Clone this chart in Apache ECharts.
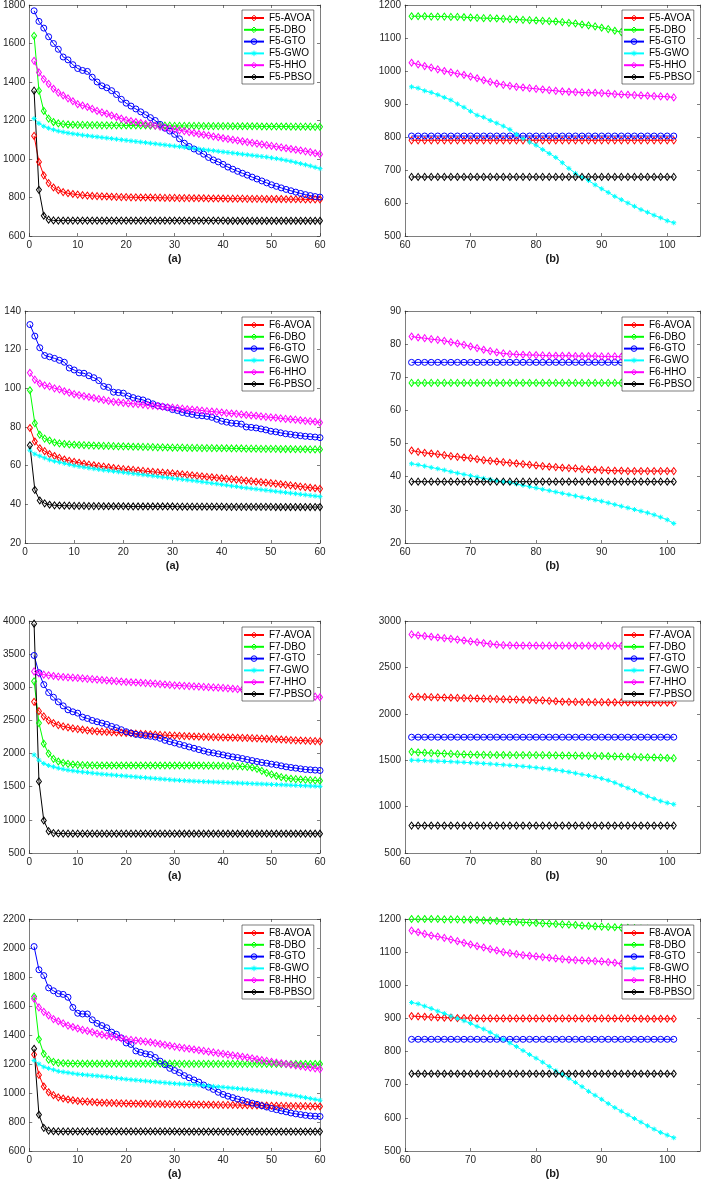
<!DOCTYPE html>
<html><head><meta charset="utf-8">
<script src="https://cdn.jsdelivr.net/npm/echarts@6/dist/echarts.min.js"></script>
<style>html,body{margin:0;padding:0;background:#fff}#c{width:702px;height:1181px}</style>
</head><body><div id="c"></div>
<script>
// ---------- DATA ----------
const itersA = [1,2,3,4,5,6,7,8,9,10,11,12,13,14,15,16,17,18,19,20,21,22,23,24,25,26,27,28,29,30,
31,32,33,34,35,36,37,38,39,40,41,42,43,44,45,46,47,48,49,50,51,52,53,54,55,56,57,58,59,60];
const itersB = [61,62,63,64,65,66,67,68,69,70,71,72,73,74,75,76,77,78,79,80,
81,82,83,84,85,86,87,88,89,90,91,92,93,94,95,96,97,98,99,100,101];
const algos = ['AVOA','DBO','GTO','GWO','HHO','PBSO'];
const funcs = ['F5','F6','F7','F8'];
const panelLabels = ['(a)','(b)'];
const leftYMin = [600, 20, 500, 600];
const leftYMax = [1800, 140, 4000, 2200];
const leftYStep = [200, 20, 500, 200];
const rightYMin = [500, 20, 500, 500];
const rightYMax = [1200, 90, 3000, 1200];
const rightYStep = [100, 10, 500, 100];
const leftXRange = [0, 60, 10];
const rightXRange = [60, 105, 10];

// F5 (a)
const f5L_AVOA = [1120,985,915,875,852,838,828,822,818,815,
812,810,808,807,806,805,804,803,802,802,
801,801,800,800,800,799,799,798,798,798,
797,797,797,796,796,796,795,795,795,795,
794,794,794,794,793,793,793,793,792,792,
792,792,791,791,791,791,790,790,790,790];
const f5L_DBO = [1640,1355,1250,1210,1192,1185,1181,1179,1178,1177,
1177,1176,1176,1176,1175,1175,1175,1175,1175,1174,
1174,1174,1174,1174,1173,1173,1173,1173,1173,1172,
1172,1172,1172,1172,1172,1171,1171,1171,1171,1171,
1171,1170,1170,1170,1170,1170,1170,1169,1169,1169,
1169,1169,1169,1168,1168,1168,1168,1168,1167,1167];
const f5L_GTO = [1770,1715,1680,1635,1600,1570,1530,1515,1490,1470,
1460,1455,1425,1400,1380,1370,1355,1335,1310,1290,
1275,1260,1245,1230,1215,1200,1180,1160,1145,1128,
1105,1082,1065,1052,1040,1025,1008,995,985,972,
958,947,936,926,916,906,896,886,876,866,
858,850,842,835,828,821,815,810,805,802];
const f5L_GWO = [1210,1185,1170,1160,1152,1145,1140,1135,1131,1128,
1124,1121,1118,1115,1112,1109,1106,1103,1100,1097,
1094,1091,1088,1085,1082,1079,1076,1073,1070,1067,
1064,1061,1058,1055,1052,1049,1046,1043,1040,1037,
1034,1031,1028,1025,1022,1019,1016,1013,1010,1006,
1002,998,993,988,982,976,970,964,957,950];
const f5L_HHO = [1510,1450,1415,1390,1365,1345,1330,1315,1300,1285,
1278,1270,1260,1250,1242,1235,1226,1218,1210,1202,
1197,1192,1187,1182,1178,1173,1168,1163,1158,1154,
1149,1145,1140,1135,1130,1126,1122,1117,1113,1108,
1104,1100,1096,1092,1088,1084,1080,1076,1072,1068,
1064,1060,1056,1052,1048,1044,1040,1036,1030,1025];
const f5L_PBSO = [1355,840,705,685,681,680,680,680,680,680,
680,680,680,680,680,680,680,680,680,680,
680,680,680,680,680,680,680,680,680,680,
680,680,680,680,680,680,680,680,680,680,
679,679,679,679,679,679,679,679,679,679,
679,679,679,679,679,679,679,679,679,679];
// F5 (b)
const f5R_AVOA = [790,790,790,790,790,790,790,790,790,790,
790,790,790,790,790,790,790,790,790,790,
790,790,790,790,790,790,790,790,790,790,
790,790,790,790,790,790,790,790,790,790,790];
const f5R_DBO = [1166,1166,1166,1165,1165,1165,1164,1164,1163,1162,
1161,1160,1160,1159,1158,1157,1156,1155,1154,1153,
1152,1151,1150,1148,1146,1144,1141,1138,1135,1131,
1127,1122,1118,1113,1108,1104,1100,1096,1093,1090,1087];
const f5R_GTO = [803,803,803,803,803,803,803,803,803,803,
803,803,803,803,803,803,803,803,803,803,
803,803,803,803,803,803,803,803,803,803,
803,803,803,803,803,803,803,803,803,803,803];
const f5R_GWO = [952,948,940,935,928,920,912,900,890,878,
866,860,850,842,833,823,808,795,785,775,
762,750,738,722,705,690,678,668,655,643,
632,620,610,600,590,580,572,563,555,546,540];
const f5R_HHO = [1025,1020,1015,1010,1005,1000,996,992,988,983,
978,972,967,962,958,955,952,950,948,946,
944,942,940,938,937,936,935,934,934,933,
932,930,929,928,927,926,925,924,923,922,920];
const f5R_PBSO = [679,679,679,679,679,679,679,679,679,679,
679,679,679,679,679,679,679,679,679,679,
679,679,679,679,679,679,679,679,679,679,
679,679,679,679,679,679,679,679,679,679,679];

// F6 (a)
const f6L_AVOA = [79.5,72.5,69.0,67.5,66.0,65.0,64.0,63.2,62.5,62.0,
61.5,61.0,60.5,60.2,59.8,59.5,59.2,58.8,58.5,58.2,
58.0,57.8,57.5,57.3,57.0,56.8,56.6,56.4,56.2,56.0,
55.7,55.5,55.2,55.0,54.7,54.5,54.2,54.0,53.7,53.5,
53.2,53.0,52.7,52.5,52.2,52.0,51.7,51.5,51.2,51.0,
50.7,50.4,50.1,49.8,49.5,49.2,48.9,48.6,48.3,48.0];
const f6L_DBO = [99,82,76,74,73,72,71.5,71.2,71.0,70.8,
70.7,70.6,70.5,70.4,70.3,70.2,70.2,70.1,70.0,70.0,
69.9,69.8,69.8,69.7,69.7,69.6,69.5,69.5,69.4,69.3,
69.3,69.3,69.2,69.2,69.2,69.1,69.1,69.1,69.0,69.0,
69.0,68.9,68.9,68.9,68.8,68.8,68.8,68.7,68.7,68.7,
68.7,68.6,68.6,68.6,68.5,68.5,68.5,68.4,68.4,68.4];
const f6L_GTO = [133,127,121,117,116.3,115.5,114.5,113.5,110.5,109.5,
108,107.8,106.5,105.5,104,101,100.5,98,97.8,97.5,
96,95.2,94.5,94,93,92,91,90.5,90,89,
88.5,87.5,87,86.5,86,85.8,85.5,85,84,83,
82.5,82,81.8,81.5,80,79.8,79.5,79,78.5,77.8,
77.5,77,76.5,76.2,75.8,75.5,75.2,75,74.8,74.5];
const f6L_GWO = [68,66,65,64,63,62.3,61.8,61.2,60.6,60.0,
59.6,59.2,58.8,58.4,58.0,57.7,57.4,57.1,56.8,56.5,
56.2,55.9,55.6,55.3,55.0,54.7,54.4,54.1,53.8,53.5,
53.2,52.9,52.6,52.3,52.0,51.6,51.3,50.9,50.6,50.2,
49.9,49.5,49.2,48.8,48.5,48.2,47.9,47.6,47.3,47.0,
46.7,46.4,46.1,45.8,45.5,45.2,44.9,44.6,44.3,44.0];
const f6L_HHO = [108,104.5,102.5,101.5,101,100,99.5,98.5,97.8,97,
96.5,96,95.5,95,94.5,94,93.5,93,92.8,92.5,
92.2,92,91.8,91.5,91.2,91,90.8,90.5,90.2,90,
89.8,89.5,89.2,89,88.8,88.5,88.2,88,87.8,87.5,
87.2,87,86.8,86.5,86.2,86,85.8,85.5,85.2,85,
84.8,84.5,84.2,84,83.8,83.5,83.2,83,82.7,82.3];
const f6L_PBSO = [70.5,47.5,42.0,40.5,39.8,39.5,39.4,39.3,39.3,39.2,
39.2,39.2,39.1,39.1,39.1,39.0,39.0,39.0,39.0,39.0,
38.9,38.9,38.9,38.9,38.9,38.9,38.9,38.9,38.9,38.9,
38.8,38.8,38.8,38.8,38.8,38.8,38.8,38.8,38.8,38.8,
38.7,38.7,38.7,38.7,38.7,38.7,38.7,38.7,38.7,38.7,
38.6,38.6,38.6,38.6,38.6,38.6,38.6,38.6,38.6,38.6];
// F6 (b)
const f6R_AVOA = [47.9,47.5,47.2,47.0,46.8,46.5,46.2,46.0,45.8,45.6,
45.3,45.0,44.8,44.6,44.4,44.2,44.0,43.8,43.6,43.4,
43.2,43.0,42.9,42.7,42.6,42.5,42.3,42.2,42.1,42.0,
41.9,41.8,41.8,41.7,41.7,41.7,41.7,41.7,41.7,41.7,41.7];
const f6R_DBO = [68.3,68.3,68.3,68.3,68.3,68.3,68.3,68.3,68.3,68.3,
68.3,68.3,68.3,68.3,68.3,68.3,68.3,68.3,68.3,68.3,
68.3,68.3,68.3,68.3,68.3,68.3,68.3,68.3,68.3,68.3,
68.3,68.3,68.3,68.3,68.3,68.3,68.3,68.3,68.3,68.3,68.3];
const f6R_GTO = [74.5,74.5,74.5,74.5,74.5,74.5,74.5,74.5,74.5,74.5,
74.5,74.5,74.5,74.5,74.5,74.5,74.5,74.5,74.5,74.5,
74.5,74.5,74.5,74.5,74.5,74.5,74.5,74.5,74.5,74.5,
74.5,74.5,74.5,74.5,74.5,74.5,74.5,74.5,74.5,74.5,74.5];
const f6R_GWO = [43.9,43.6,43.2,42.8,42.4,42.0,41.5,41.1,40.7,40.3,
39.9,39.5,39.2,38.8,38.5,38.2,37.8,37.4,37.0,36.6,
36.2,35.8,35.4,35.0,34.6,34.2,33.8,33.4,33.0,32.6,
32.1,31.6,31.1,30.6,30.1,29.6,29.1,28.5,27.8,27.0,25.9];
const f6R_HHO = [82.3,82.0,81.8,81.5,81.3,81.0,80.6,80.2,79.8,79.3,
78.8,78.3,77.9,77.5,77.2,77.0,76.9,76.8,76.7,76.7,
76.6,76.5,76.5,76.5,76.5,76.4,76.4,76.4,76.4,76.3,
76.3,76.3,76.2,76.2,76.2,76.1,76.1,76.1,76.0,76.0,76.0];
const f6R_PBSO = [38.5,38.5,38.5,38.5,38.5,38.5,38.5,38.5,38.5,38.5,
38.5,38.5,38.5,38.5,38.5,38.5,38.5,38.5,38.5,38.5,
38.5,38.5,38.5,38.5,38.5,38.5,38.5,38.5,38.5,38.5,
38.5,38.5,38.5,38.5,38.5,38.5,38.5,38.5,38.5,38.5,38.5];

// F7 (a)
const f7L_AVOA = [2780,2640,2560,2500,2460,2430,2410,2395,2380,2370,
2360,2350,2340,2335,2330,2326,2322,2318,2314,2310,
2306,2302,2298,2294,2290,2286,2282,2278,2274,2270,
2267,2264,2261,2258,2255,2253,2251,2249,2247,2245,
2243,2241,2239,2237,2235,2232,2229,2226,2223,2220,
2216,2212,2208,2204,2200,2197,2194,2191,2188,2185];
const f7L_DBO = [3090,2460,2150,2000,1920,1880,1860,1845,1835,1830,
1826,1824,1822,1821,1820,1820,1820,1820,1820,1820,
1820,1820,1820,1820,1820,1820,1820,1820,1820,1820,
1820,1820,1820,1820,1820,1819,1818,1817,1816,1815,
1813,1811,1809,1806,1800,1790,1770,1740,1710,1685,
1662,1644,1630,1620,1614,1609,1604,1599,1595,1590];
const f7L_GTO = [3480,3220,3040,2920,2850,2780,2720,2660,2630,2610,
2550,2530,2500,2480,2460,2440,2410,2390,2360,2330,
2310,2290,2280,2270,2260,2250,2230,2200,2180,2160,
2140,2120,2100,2080,2060,2040,2020,2010,1995,1980,
1965,1950,1940,1925,1910,1895,1880,1865,1855,1840,
1830,1815,1800,1790,1780,1770,1760,1755,1750,1745];
const f7L_GWO = [1980,1900,1850,1820,1800,1780,1765,1750,1740,1730,
1722,1714,1706,1698,1690,1684,1678,1672,1666,1660,
1654,1648,1642,1636,1630,1624,1618,1612,1606,1600,
1596,1592,1588,1584,1580,1577,1574,1571,1568,1565,
1562,1559,1556,1553,1550,1547,1544,1541,1538,1535,
1532,1529,1526,1523,1520,1517,1514,1511,1508,1505];
const f7L_HHO = [3240,3210,3190,3180,3170,3160,3155,3150,3145,3140,
3134,3128,3122,3116,3110,3104,3098,3092,3086,3080,
3076,3072,3068,3064,3060,3054,3048,3042,3036,3030,
3026,3022,3018,3014,3010,3006,3002,2998,2994,2990,
2984,2978,2972,2966,2960,2954,2948,2942,2936,2930,
2922,2914,2906,2898,2890,2882,2874,2866,2858,2850];
const f7L_PBSO = [3960,1580,990,830,800,795,793,792,792,792,
792,792,792,792,792,792,792,792,792,792,
792,792,792,792,792,792,792,792,792,792,
791,791,791,791,791,791,791,791,791,791,
791,791,791,791,791,791,791,791,791,791,
791,791,791,791,791,791,791,791,791,791];
// F7 (b)
const f7R_AVOA = [2185,2183,2181,2179,2177,2175,2173,2171,2169,2167,
2165,2163,2161,2159,2157,2155,2153,2151,2149,2147,
2145,2140,2135,2130,2129,2128,2127,2126,2125,2125,
2124,2124,2123,2123,2122,2122,2121,2121,2120,2120,2120];
const f7R_DBO = [1590,1585,1580,1577,1574,1571,1568,1565,1562,1560,
1559,1558,1557,1556,1556,1555,1555,1555,1555,1555,
1554,1553,1552,1551,1550,1549,1548,1547,1546,1545,
1543,1541,1539,1537,1535,1533,1531,1529,1527,1524,1522];
const f7R_GTO = [1748,1748,1748,1748,1748,1748,1748,1748,1748,1748,
1748,1748,1748,1748,1748,1748,1748,1748,1748,1748,
1748,1748,1748,1748,1748,1748,1748,1748,1748,1748,
1748,1748,1748,1748,1748,1748,1748,1748,1748,1748,1748];
const f7R_GWO = [1500,1498,1495,1492,1490,1487,1484,1480,1477,1473,
1469,1465,1460,1455,1450,1445,1440,1434,1428,1420,
1413,1405,1396,1385,1373,1360,1346,1335,1320,1303,
1283,1258,1230,1200,1172,1143,1112,1085,1060,1040,1025];
const f7R_HHO = [2855,2845,2838,2830,2822,2815,2808,2800,2790,2780,
2772,2762,2752,2745,2740,2738,2736,2735,2735,2735,
2734,2734,2734,2734,2733,2733,2733,2733,2732,2732,
2732,2732,2731,2731,2731,2731,2730,2730,2730,2730,2730];
const f7R_PBSO = [795,795,795,795,795,795,795,795,795,795,
795,795,795,795,795,795,795,795,795,795,
795,795,795,795,795,795,795,795,795,795,
795,795,795,795,795,795,795,795,795,795,795];

// F8 (a)
const f8L_AVOA = [1265,1125,1045,1005,985,970,962,955,950,945,
942,940,938,935,933,932,931,930,929,928,
927,927,926,926,925,925,924,923,923,922,
922,921,921,920,920,920,919,919,918,918,
918,917,917,916,916,915,915,914,913,912,
912,911,911,910,910,909,909,908,908,907];
const f8L_DBO = [1665,1370,1270,1230,1215,1208,1205,1204,1203,1203,
1202,1202,1202,1202,1202,1202,1202,1202,1202,1202,
1202,1202,1202,1202,1202,1202,1202,1202,1202,1202,
1201,1201,1201,1201,1201,1201,1201,1201,1201,1201,
1201,1201,1201,1201,1201,1201,1201,1201,1201,1201,
1200,1200,1200,1200,1200,1200,1200,1200,1200,1200];
const f8L_GTO = [2010,1850,1810,1725,1705,1685,1680,1660,1590,1550,
1545,1545,1505,1480,1465,1450,1420,1405,1380,1345,
1335,1290,1280,1270,1265,1245,1220,1195,1170,1155,
1140,1120,1105,1090,1075,1055,1040,1025,1005,990,
978,968,958,950,940,930,922,912,903,893,
885,877,870,862,856,851,846,842,840,838];
const f8L_GWO = [1225,1200,1180,1170,1160,1150,1145,1140,1135,1130,
1127,1124,1121,1118,1115,1111,1107,1103,1099,1095,
1092,1089,1086,1083,1080,1077,1074,1071,1068,1065,
1063,1061,1059,1057,1055,1052,1049,1046,1043,1040,
1037,1034,1031,1028,1025,1021,1017,1013,1009,1005,
1000,995,990,985,980,974,968,962,956,950];
const f8L_HHO = [1650,1590,1560,1535,1510,1495,1480,1465,1455,1445,
1435,1428,1420,1410,1402,1395,1390,1385,1378,1370,
1366,1362,1358,1354,1350,1344,1338,1332,1326,1320,
1315,1310,1305,1300,1295,1290,1285,1280,1275,1270,
1265,1260,1255,1250,1245,1239,1233,1227,1221,1215,
1210,1205,1200,1195,1190,1185,1180,1175,1170,1165];
const f8L_PBSO = [1305,850,760,740,736,735,735,735,735,735,
735,735,735,735,735,735,735,735,735,735,
735,735,735,735,735,735,735,735,735,735,
734,734,734,734,734,734,734,734,734,734,
734,734,734,734,734,734,734,734,734,734,
734,734,734,734,734,734,734,734,734,734];
// F8 (b)
const f8R_AVOA = [907,906,905,904,903,902,902,901,901,901,
900,900,900,900,900,900,900,900,900,900,
900,900,900,900,900,900,900,900,900,900,
900,900,900,900,900,899,899,899,899,899,899];
const f8R_DBO = [1200,1200,1200,1200,1200,1199,1199,1199,1198,1198,
1197,1196,1195,1194,1193,1192,1191,1190,1189,1188,
1187,1186,1185,1184,1183,1182,1180,1179,1178,1177,
1176,1175,1174,1173,1172,1171,1170,1169,1168,1167,1166];
const f8R_GTO = [837,837,837,837,837,837,837,837,837,837,
837,837,837,837,837,837,837,837,837,837,
837,837,837,837,837,837,837,837,837,837,
837,837,837,837,837,837,837,837,837,837,837];
const f8R_GWO = [948,944,937,930,922,915,907,900,893,885,
876,868,858,847,837,826,815,803,791,780,
768,755,742,731,719,707,694,680,668,656,
643,631,620,609,598,587,576,566,556,548,540];
const f8R_HHO = [1165,1160,1155,1150,1147,1143,1138,1133,1128,1123,
1118,1114,1109,1105,1100,1097,1094,1091,1089,1087,
1085,1083,1081,1079,1077,1076,1075,1074,1073,1072,
1070,1068,1065,1064,1063,1062,1061,1060,1059,1058,1058];
const f8R_PBSO = [733,733,733,733,733,733,733,733,733,733,
733,733,733,733,733,733,733,733,733,733,
733,733,733,733,733,733,733,733,733,733,
733,733,733,733,733,733,733,733,733,733,733];

const valuesL = {
  F5:[f5L_AVOA,f5L_DBO,f5L_GTO,f5L_GWO,f5L_HHO,f5L_PBSO],
  F6:[f6L_AVOA,f6L_DBO,f6L_GTO,f6L_GWO,f6L_HHO,f6L_PBSO],
  F7:[f7L_AVOA,f7L_DBO,f7L_GTO,f7L_GWO,f7L_HHO,f7L_PBSO],
  F8:[f8L_AVOA,f8L_DBO,f8L_GTO,f8L_GWO,f8L_HHO,f8L_PBSO]
};
const valuesR = {
  F5:[f5R_AVOA,f5R_DBO,f5R_GTO,f5R_GWO,f5R_HHO,f5R_PBSO],
  F6:[f6R_AVOA,f6R_DBO,f6R_GTO,f6R_GWO,f6R_HHO,f6R_PBSO],
  F7:[f7R_AVOA,f7R_DBO,f7R_GTO,f7R_GWO,f7R_HHO,f7R_PBSO],
  F8:[f8R_AVOA,f8R_DBO,f8R_GTO,f8R_GWO,f8R_HHO,f8R_PBSO]
};

// ---------- STYLE / LAYOUT ----------
const colors = ['#ff0000','#00ff00','#0000ff','#00ffff','#ff00ff','#000000'];
const asterisk = 'path://M5,0L5,10M0,5L10,5M1.6,1.6L8.4,8.4M8.4,1.6L1.6,8.4';
const symbols = ['diamond','diamond','circle',asterisk,'diamond','diamond'];
const symSizes = [[5,7],[5,7],[6,6],[5,5],[5,7],[5,7]];
const rowTop = [4, 311, 621, 919];
const gridH = 232, gridW = 295;
const gridLeft = [25, 405];
const legendLeft = [242, 622];
const axisColor = '#262626';
const FONT = 'Liberation Sans, Arial, sans-serif';
const plainNum = v => String(v);

const grids = [], xAxes = [], yAxes = [], series = [], legends = [];

function axisCommon(){
  return {
    axisLine:{show:true, onZero:false, lineStyle:{color:axisColor, width:0.6}},
    axisTick:{show:true, inside:true, length:3, lineStyle:{color:axisColor, width:0.6}},
    splitLine:{show:false}
  };
}

for (let r = 0; r < 4; r++) {
  const f = funcs[r];
  for (let c = 0; c < 2; c++) {
    const gi = grids.length;
    grids.push({left:gridLeft[c], top:rowTop[r], width:gridW, height:gridH, containLabel:false});
    const xr = c === 0 ? leftXRange : rightXRange;
    const ymin = c === 0 ? leftYMin[r] : rightYMin[r];
    const ymax = c === 0 ? leftYMax[r] : rightYMax[r];
    const ystep = c === 0 ? leftYStep[r] : rightYStep[r];
    xAxes.push(Object.assign(axisCommon(), {
      gridIndex:gi, type:'value', position:'bottom', min:xr[0], max:xr[1], interval:xr[2],
      name:panelLabels[c], nameLocation:'middle', nameGap:17,
      nameTextStyle:{fontFamily:FONT, fontSize:11, fontWeight:'bold', color:'#1a1a1a'},
      axisLabel:{show:true, margin:4, fontFamily:FONT, fontSize:10, color:axisColor,
                 formatter:plainNum, showMaxLabel: c === 0 ? true : false}
    }));
    xAxes.push(Object.assign(axisCommon(), {
      gridIndex:gi, type:'value', position:'top', min:xr[0], max:xr[1], interval:xr[2],
      axisLabel:{show:false}
    }));
    yAxes.push(Object.assign(axisCommon(), {
      gridIndex:gi, type:'value', position:'left', min:ymin, max:ymax, interval:ystep,
      axisLabel:{show:true, margin:4, fontFamily:FONT, fontSize:10, color:axisColor, formatter:plainNum}
    }));
    yAxes.push(Object.assign(axisCommon(), {
      gridIndex:gi, type:'value', position:'right', min:ymin, max:ymax, interval:ystep,
      axisLabel:{show:false}
    }));
    const iters = c === 0 ? itersA : itersB;
    const vals = c === 0 ? valuesL[f] : valuesR[f];
    algos.forEach((a, k) => {
      series.push({
        type:'line', name:f + '-' + a,
        xAxisIndex:2*gi, yAxisIndex:2*gi,
        data: iters.map((x, i) => [x, vals[k][i]]),
        symbol:symbols[k], symbolSize:symSizes[k], showAllSymbol:true,
        lineStyle:{color:colors[k], width:1},
        itemStyle:{color:'rgba(0,0,0,0)', borderColor:colors[k], borderWidth:1},
        emphasis:{disabled:true},
        z: 2
      });
    });
    legends.push({
      show:true, orient:'vertical', left:legendLeft[c], top:rowTop[r] + 6,
      data: algos.map((a, k) => ({name: f + '-' + a,
        itemStyle:{color:'rgba(0,0,0,0)', borderColor:colors[k], borderWidth:1}})),
      itemWidth:20, itemHeight:7, itemGap:1.8,
      padding:[3,2,2,1],
      backgroundColor:'#fff', borderColor:axisColor, borderWidth:0.6,
      textStyle:{fontFamily:FONT, fontSize:10, color:'#000'},
      selectedMode:false, z:5
    });
  }
}

const chart = echarts.init(document.getElementById('c'), null, {renderer:'canvas'});
chart.setOption({
  animation:false,
  backgroundColor:'#fff',
  grid:grids, xAxis:xAxes, yAxis:yAxes, legend:legends, series:series
});
</script>
</body></html>
